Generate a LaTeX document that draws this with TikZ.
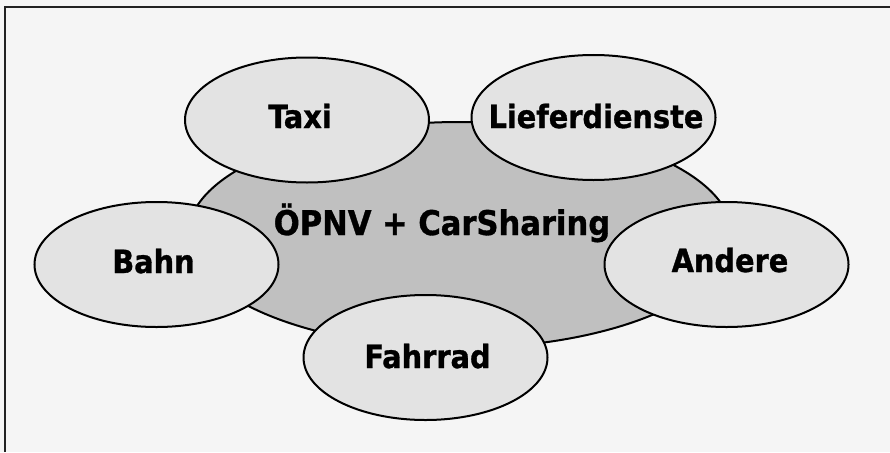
\documentclass[tikz,border=0pt]{standalone}
\usepackage{fontspec}
\newfontfamily\lblfont{DejaVu Sans Condensed Bold}[FakeBold=1]
\usetikzlibrary{shapes.geometric}
\definecolor{bgcol}{HTML}{F5F5F5}
\definecolor{bigfill}{HTML}{C0C0C0}
\definecolor{bubfill}{HTML}{E3E3E3}
\definecolor{bordercol}{HTML}{222222}
\begin{document}
\begin{tikzpicture}[x=1pt,y=-1pt,
  oval/.style={ellipse, draw=black, line width=2pt, inner sep=0pt, outer sep=0pt},
  bub/.style={oval, fill=bubfill, minimum width=244pt, minimum height=125pt},
  lbl/.style={font=\lblfont\fontsize{32}{36}\selectfont, anchor=base, inner sep=0pt},
  biglbl/.style={font=\lblfont\fontsize{34}{38}\selectfont, anchor=base, inner sep=0pt}]
\useasboundingbox (0,0) rectangle (890,452);
\fill[bgcol] (0,0) rectangle (890,452);
\draw[line width=2pt, bordercol] (5,452) -- (5,7) -- (890,7);
\node[oval, fill=bigfill, minimum width=544pt, minimum height=226pt] (core) at (460,235) {};
\node[bub] (taxi) at (307,120) {};
\node[bub] (liefer) at (593.5,117.5) {};
\node[bub] (bahn) at (156.5,264.5) {};
\node[bub] (andere) at (726.5,264.5) {};
\node[bub] (fahrrad) at (425.5,357.5) {};
\node[biglbl] (tcore) at (442,235) {ÖPNV + CarSharing};
\node[lbl] (ttaxi) at (300,128) {Taxi};
\node[lbl] (tliefer) at (596,128) {Lieferdienste};
\node[lbl] (tbahn) at (153.5,273) {Bahn};
\node[lbl] (tandere) at (730,272) {Andere};
\node[lbl] (tfahrrad) at (427.5,368) {Fahrrad};
\end{tikzpicture}
\end{document}
